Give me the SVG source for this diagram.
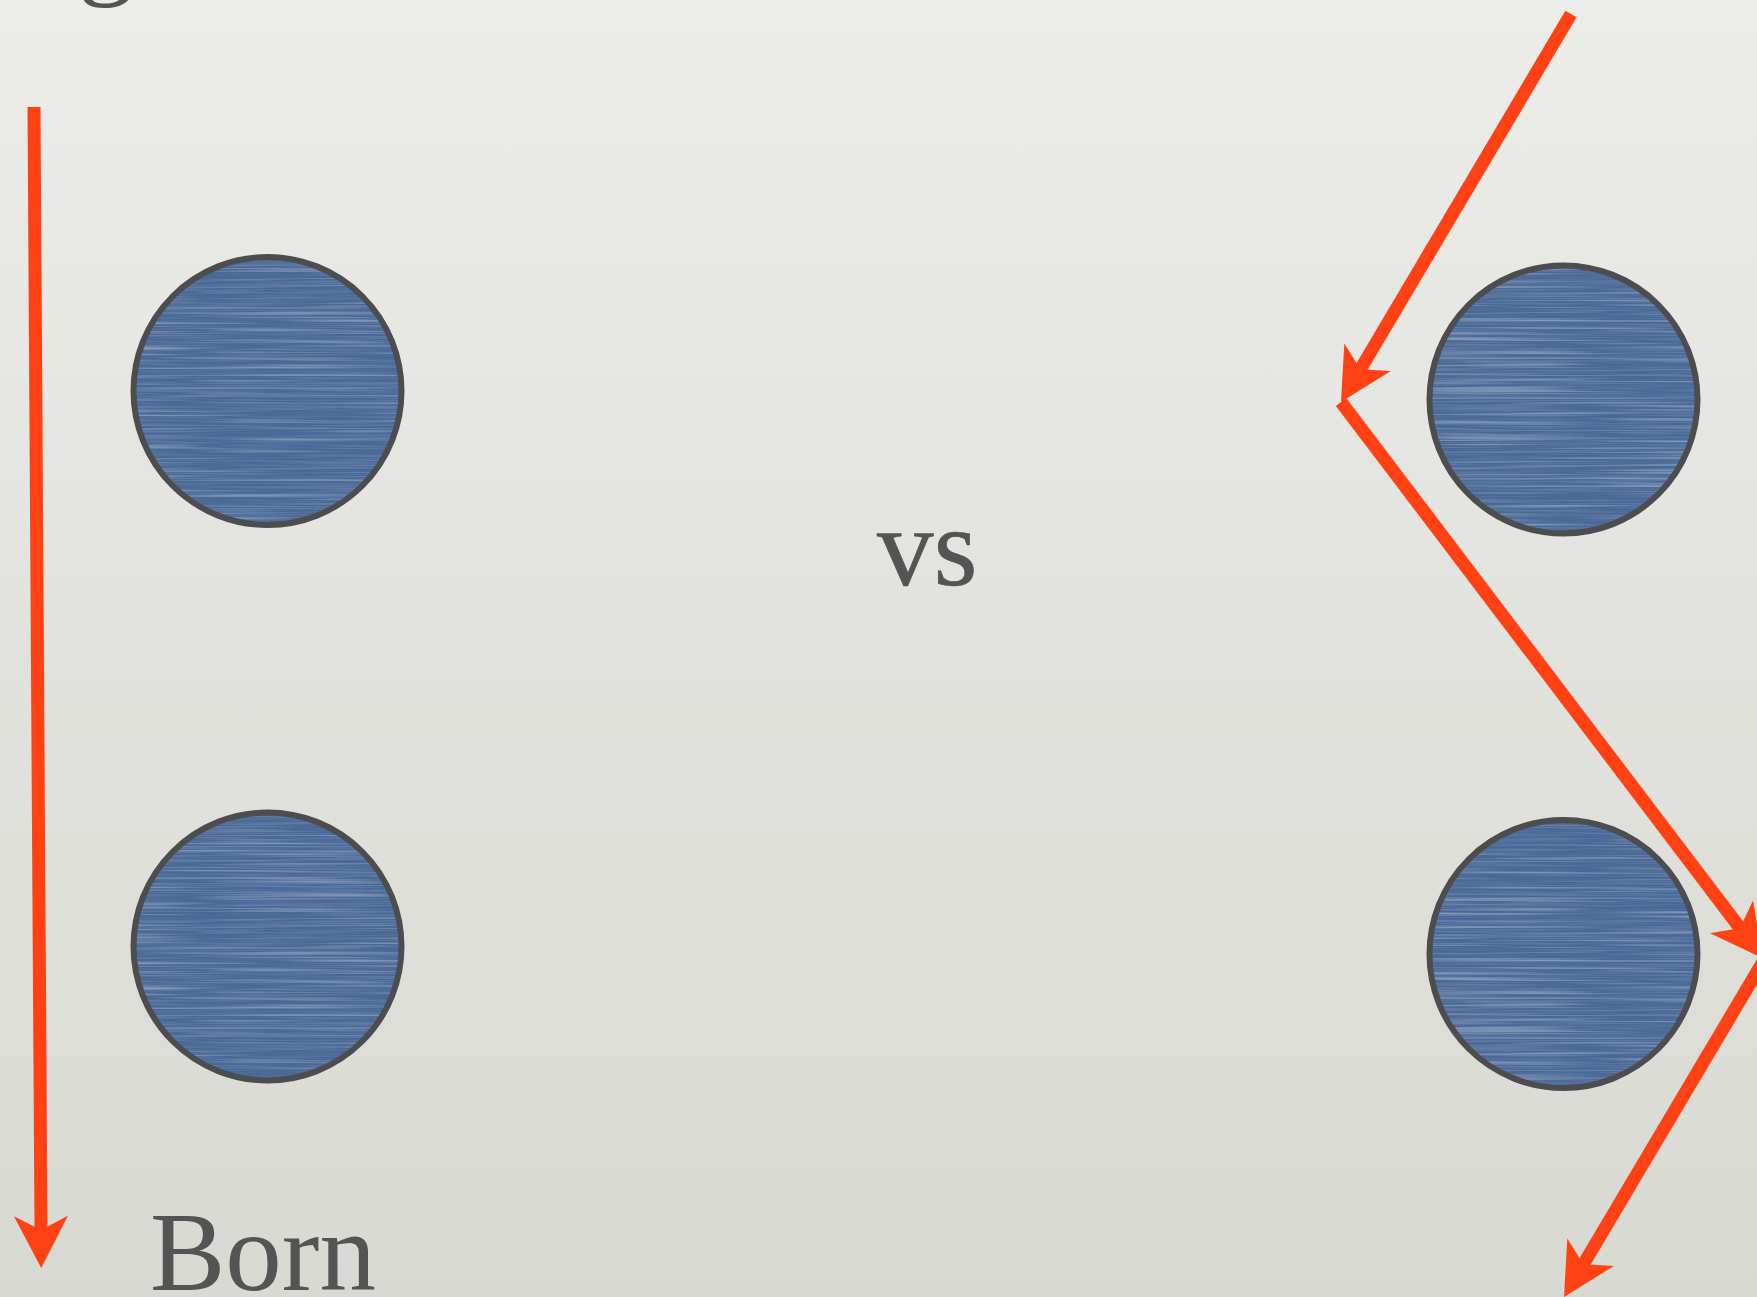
<svg xmlns="http://www.w3.org/2000/svg" width="1757" height="1297" viewBox="0 0 1757 1297">
  <style>
    .label { font-family: "Liberation Serif", "Times New Roman", serif; font-size: 113px; fill: #545454; }
    .heavy { stroke: #545454; stroke-width: 0.6; }
    .ball { fill: #4a6997; filter: url(#brushed); }
    .rim { fill: none; stroke: #4d4d4f; stroke-width: 6; }
    .arrow { fill: none; stroke: #ff4114; stroke-width: 13; stroke-linecap: butt; marker-end: url(#head); }
  </style>
  <defs>
    <linearGradient id="paper" x1="0" y1="0" x2="0" y2="1">
      <stop offset="0" stop-color="#eeeeeb"/>
      <stop offset="1" stop-color="#dadad4"/>
    </linearGradient>
    <!-- faint paper grain -->
    <filter id="grain" x="0" y="0" width="1" height="1">
      <feTurbulence type="fractalNoise" baseFrequency="0.9" numOctaves="2" seed="7" result="n"/>
      <feColorMatrix in="n" type="matrix" values="0 0 0 0 0.5  0 0 0 0 0.5  0 0 0 0 0.48  0.0 0 0 0 0.04"/>
    </filter>
    <!-- horizontal brushed streaks inside the discs -->
    <filter id="brushed" x="0" y="0" width="1" height="1">
      <feTurbulence type="fractalNoise" baseFrequency="0.005 0.4" numOctaves="2" seed="4" result="n"/>
      <feColorMatrix in="n" type="matrix" result="light"
        values="0 0 0 0 0.42  0 0 0 0 0.53  0 0 0 0 0.70  1.3 0 0 0 -0.62"/>
      <feColorMatrix in="n" type="matrix" result="dark"
        values="0 0 0 0 0.23  0 0 0 0 0.34  0 0 0 0 0.53  -1.3 0 0 0 0.58"/>
      <feComposite in="light" in2="SourceGraphic" operator="in" result="l2"/>
      <feComposite in="dark" in2="SourceGraphic" operator="in" result="d2"/>
      <feMerge>
        <feMergeNode in="SourceGraphic"/>
        <feMergeNode in="d2"/>
        <feMergeNode in="l2"/>
      </feMerge>
    </filter>
    <!-- notched arrowhead; origin sits at the notch, tip 38px ahead -->
    <marker id="head" markerUnits="userSpaceOnUse" viewBox="-16 -30 58 60" markerWidth="58" markerHeight="60" refX="0" refY="0" orient="auto">
      <path d="M38,0 L-14,-27 L0,0 L-14,27 Z" fill="#ff4114"/>
    </marker>
  </defs>

  <rect width="1757" height="1297" fill="url(#paper)"/>
  <rect width="1757" height="1297" filter="url(#grain)"/>

  <g id="text-top">
    <text class="label" x="78" y="-16">g</text>
  </g>
  <g id="text-vs">
    <text class="label heavy" x="877" y="585" font-size="116">vs</text>
  </g>
  <g id="text-born">
    <text class="label" x="150" y="1290">Born</text>
  </g>

  <g id="node-left-top">
    <circle class="ball" cx="267.5" cy="391" r="134"/>
    <circle class="rim" cx="267.5" cy="391" r="134"/>
  </g>
  <g id="node-left-bottom">
    <circle class="ball" cx="267.5" cy="946.5" r="134"/>
    <circle class="rim" cx="267.5" cy="946.5" r="134"/>
  </g>
  <g id="node-right-top">
    <circle class="ball" cx="1563.5" cy="399.5" r="134"/>
    <circle class="rim" cx="1563.5" cy="399.5" r="134"/>
  </g>
  <g id="node-right-bottom">
    <circle class="ball" cx="1563.5" cy="954" r="134"/>
    <circle class="rim" cx="1563.5" cy="954" r="134"/>
  </g>

  <g id="connectors">
    <path class="arrow" d="M34,107 L41,1230"/>
    <path class="arrow" d="M1571,14 L1360.4,369.3"/>
    <path class="arrow" d="M1341,402 L1740,928"/>
    <path class="arrow" d="M1764,960 L1583.4,1264.3"/>
  </g>
</svg>
